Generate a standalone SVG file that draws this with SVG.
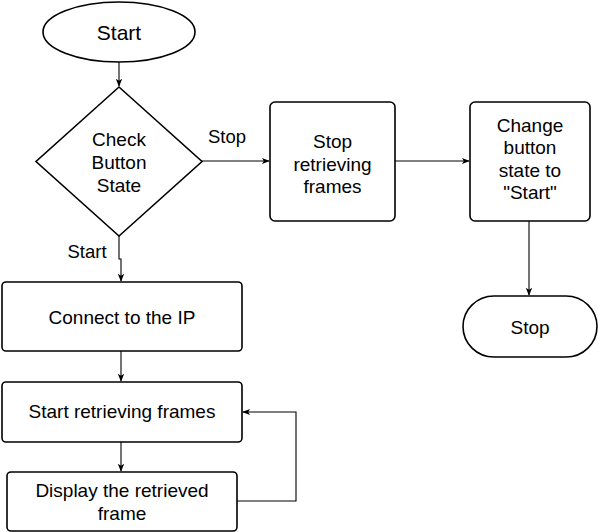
<svg xmlns="http://www.w3.org/2000/svg" width="598" height="532" viewBox="0 0 598 532">
<style>
.s{fill:#fff;stroke:#000;stroke-width:1.6}
.t{font-family:"Liberation Sans",Arial,sans-serif;font-size:19px;fill:#000;text-anchor:middle}
.c{fill:none;stroke:#000;stroke-width:1.1}
</style>
<defs>
<marker id="a" viewBox="0 0 10 10" refX="9" refY="5" markerWidth="8" markerHeight="8" markerUnits="userSpaceOnUse" orient="auto">
<path d="M0,1 L10,5 L0,9 L2.5,5 Z" fill="#000"/>
</marker>
</defs>
<rect width="598" height="532" fill="#fff"/>
<g id="connectors">
<path class="c" d="M119,62 V86" marker-end="url(#a)"/>
<path class="c" d="M119,236 V259 H121 V281" marker-end="url(#a)"/>
<path class="c" d="M202,161 H269" marker-end="url(#a)"/>
<path class="c" d="M395,161 H469" marker-end="url(#a)"/>
<path class="c" d="M529,221 V295" marker-end="url(#a)"/>
<path class="c" d="M121,351 V381" marker-end="url(#a)"/>
<path class="c" d="M121,442 V471" marker-end="url(#a)"/>
<path class="c" d="M237,501 H296 V412 H243" marker-end="url(#a)"/>
<text class="t" x="227" y="143" style="font-size:18.5px">Stop</text>
<text class="t" x="87" y="258" style="font-size:18.5px">Start</text>
</g>
<g id="start">
<ellipse class="s" cx="119" cy="32" rx="76" ry="30"/>
<text class="t" x="119" y="39.5" style="font-size:21px">Start</text>
</g>
<g id="check">
<polygon class="s" points="119,87 202,161.5 119,236 36,161.5"/>
<text class="t" x="119" y="146">Check</text>
<text class="t" x="119" y="169">Button</text>
<text class="t" x="119" y="192">State</text>
</g>
<g id="stopRetrieving">
<rect class="s" x="270" y="102" width="125" height="119" rx="5"/>
<text class="t" x="332.5" y="148">Stop</text>
<text class="t" x="332.5" y="170.5">retrieving</text>
<text class="t" x="332.5" y="192.5">frames</text>
</g>
<g id="changeState">
<rect class="s" x="470" y="102" width="120" height="119" rx="5"/>
<text class="t" x="530" y="131.5">Change</text>
<text class="t" x="530" y="154">button</text>
<text class="t" x="530" y="176.5">state to</text>
<text class="t" x="530" y="199">"Start"</text>
</g>
<g id="stop">
<rect class="s" x="463" y="296" width="134" height="61" rx="31" ry="30.5"/>
<text class="t" x="530" y="334">Stop</text>
</g>
<g id="connect">
<rect class="s" x="2" y="282" width="240" height="69" rx="4"/>
<text class="t" x="122" y="324">Connect to the IP</text>
</g>
<g id="startRetrieving">
<rect class="s" x="2" y="382" width="240" height="60" rx="4"/>
<text class="t" x="122" y="418">Start retrieving frames</text>
</g>
<g id="display">
<rect class="s" x="7" y="472" width="230" height="59" rx="4"/>
<text class="t" x="122" y="497">Display the retrieved</text>
<text class="t" x="122" y="519.5">frame</text>
</g>
</svg>
